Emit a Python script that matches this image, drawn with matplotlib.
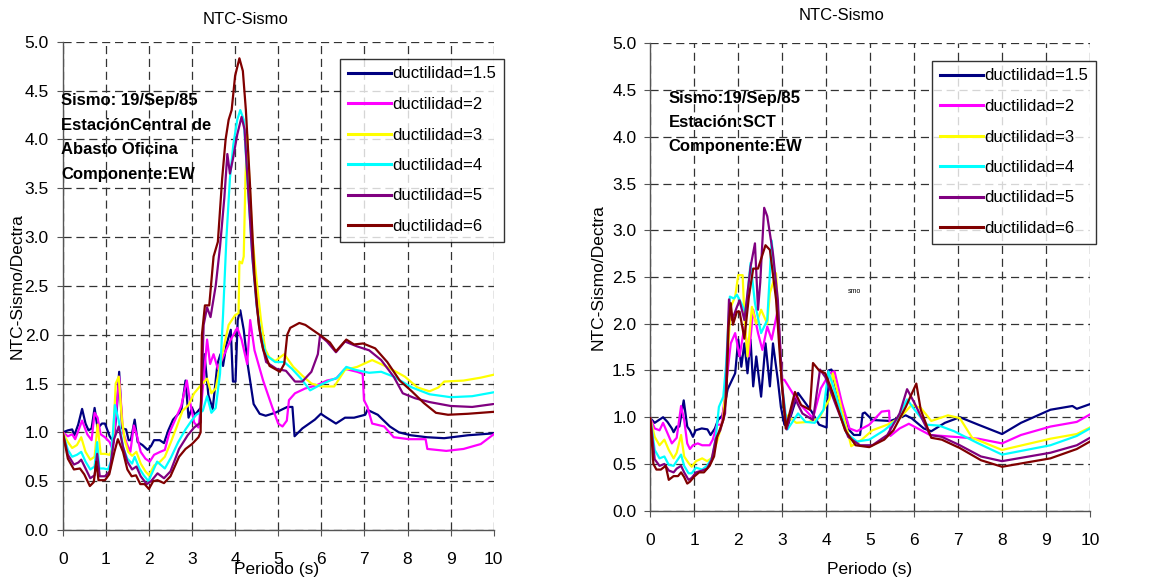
import matplotlib
matplotlib.use("Agg")
import matplotlib.pyplot as plt

plt.rcParams['font.family'] = ['Liberation Sans', 'DejaVu Sans']

labels = ["ductilidad=1.5", "ductilidad=2", "ductilidad=3",
          "ductilidad=4", "ductilidad=5", "ductilidad=6"]
colors = ["#000080", "#FF00FF", "#FFFF00", "#00FFFF", "#800080", "#800000"]
x_ticks = list(range(0, 11))
y_ticks = [0.0, 0.5, 1.0, 1.5, 2.0, 2.5, 3.0, 3.5, 4.0, 4.5, 5.0]

# Central de Abasto Oficina, EW -- (periodo, cociente)
cao_15 = [(0, 1.0), (0.12, 1.02), (0.22, 1.03), (0.27, 0.97), (0.36, 1.08), (0.45, 1.24),
          (0.53, 1.09), (0.6, 1.02), (0.67, 1.04), (0.74, 1.25), (0.81, 1.04), (0.91, 1.09),
          (0.98, 1.09), (1.09, 0.96), (1.18, 0.9), (1.25, 1.2), (1.31, 1.62), (1.38, 1.04),
          (1.47, 1.03), (1.53, 0.92), (1.58, 0.92), (1.67, 1.13), (1.74, 0.9), (1.85, 0.87),
          (1.97, 0.82), (2.05, 0.86), (2.12, 0.92), (2.25, 0.92), (2.35, 0.89), (2.45, 1.02),
          (2.56, 1.13), (2.75, 1.22), (2.85, 1.53), (2.92, 1.15), (3.0, 1.25), (3.07, 1.18),
          (3.2, 1.25), (3.29, 1.8), (3.38, 1.38), (3.48, 1.24), (3.59, 1.7), (3.66, 1.8),
          (3.72, 1.68), (3.8, 1.9), (3.9, 2.05), (3.95, 1.52), (4.01, 1.52), (4.06, 2.15),
          (4.12, 2.25), (4.2, 2.05), (4.29, 1.7), (4.43, 1.29), (4.57, 1.19), (4.71, 1.17),
          (4.93, 1.2), (5.21, 1.26), (5.33, 1.26), (5.38, 0.96), (5.56, 1.04), (5.85, 1.13),
          (5.99, 1.19), (6.09, 1.16), (6.34, 1.09), (6.55, 1.15), (6.76, 1.15), (7.02, 1.18),
          (7.07, 1.23), (7.31, 1.18), (7.59, 1.06), (7.8, 1.0), (8.08, 0.97), (8.45, 0.95),
          (8.85, 0.94), (9.4, 0.97), (10, 0.99)]
cao_2 = [(0, 1.0), (0.12, 0.96), (0.22, 0.98), (0.29, 0.93), (0.45, 1.12), (0.57, 0.98),
         (0.67, 0.92), (0.74, 1.2), (0.81, 1.15), (0.88, 0.98), (0.98, 0.95), (1.09, 0.9),
         (1.16, 0.82), (1.24, 1.2), (1.31, 1.57), (1.4, 1.0), (1.49, 0.88), (1.57, 0.8),
         (1.65, 1.07), (1.72, 0.97), (1.81, 0.8), (1.92, 0.73), (2.02, 0.7), (2.12, 0.77),
         (2.26, 0.8), (2.37, 0.82), (2.47, 0.99), (2.61, 1.13), (2.75, 1.27), (2.88, 1.53),
         (2.96, 1.3), (3.05, 1.1), (3.15, 1.05), (3.23, 1.35), (3.35, 1.95), (3.42, 1.7),
         (3.5, 1.8), (3.6, 1.65), (3.75, 1.8), (3.9, 1.95), (4.05, 2.07), (4.15, 1.95),
         (4.28, 1.7), (4.35, 2.15), (4.45, 1.84), (4.65, 1.53), (4.86, 1.26), (5.0, 1.09),
         (5.1, 1.06), (5.2, 1.12), (5.25, 1.33), (5.39, 1.4), (5.63, 1.45), (5.88, 1.48),
         (6.13, 1.53), (6.34, 1.55), (6.55, 1.65), (6.83, 1.62), (6.96, 1.6), (6.99, 1.33),
         (7.07, 1.26), (7.18, 1.09), (7.46, 1.06), (7.68, 0.95), (8.03, 0.93), (8.42, 0.93),
         (8.46, 0.83), (8.9, 0.81), (9.3, 0.83), (9.7, 0.88), (10, 0.98)]
cao_3 = [(0, 1.0), (0.12, 0.9), (0.22, 0.84), (0.33, 0.87), (0.43, 0.95), (0.53, 0.8),
         (0.64, 0.72), (0.74, 0.75), (0.81, 1.08), (0.88, 0.78), (0.98, 0.78), (1.09, 0.77),
         (1.16, 0.84), (1.23, 1.5), (1.3, 1.57), (1.37, 1.15), (1.44, 0.92), (1.52, 0.8),
         (1.61, 0.76), (1.71, 0.8), (1.81, 0.68), (1.92, 0.6), (2.0, 0.56), (2.12, 0.66),
         (2.26, 0.7), (2.37, 0.75), (2.51, 0.9), (2.64, 1.05), (2.78, 1.22), (2.92, 1.28),
         (3.05, 1.4), (3.2, 1.48), (3.35, 1.55), (3.45, 1.4), (3.55, 1.45), (3.7, 1.8),
         (3.85, 2.1), (4.0, 2.2), (4.08, 2.22), (4.1, 2.75), (4.16, 2.73), (4.2, 2.8),
         (4.24, 3.6), (4.28, 4.05), (4.33, 3.6), (4.4, 3.0), (4.5, 2.55), (4.6, 2.15),
         (4.7, 1.85), (4.79, 1.77), (4.93, 1.73), (5.14, 1.8), (5.35, 1.67), (5.56, 1.58),
         (5.77, 1.5), (5.99, 1.47), (6.3, 1.47), (6.55, 1.64), (6.83, 1.67), (7.18, 1.74),
         (7.53, 1.67), (7.94, 1.57), (8.23, 1.46), (8.51, 1.42), (8.72, 1.46), (8.85, 1.52),
         (9.3, 1.53), (9.7, 1.56), (10, 1.59)]
cao_4 = [(0, 1.0), (0.12, 0.82), (0.22, 0.75), (0.33, 0.77), (0.43, 0.8), (0.53, 0.7),
         (0.64, 0.62), (0.74, 0.65), (0.8, 0.9), (0.85, 0.63), (0.95, 0.63), (1.05, 0.62),
         (1.12, 0.7), (1.21, 1.28), (1.3, 1.12), (1.4, 0.85), (1.5, 0.73), (1.61, 0.68),
         (1.67, 0.75), (1.78, 0.63), (1.88, 0.56), (1.99, 0.5), (2.09, 0.6), (2.19, 0.7),
         (2.37, 0.63), (2.51, 0.74), (2.68, 0.9), (2.85, 1.03), (2.99, 1.12), (3.1, 1.18),
         (3.25, 1.22), (3.35, 1.37), (3.45, 1.2), (3.55, 1.25), (3.65, 1.6), (3.72, 2.2),
         (3.8, 3.0), (3.88, 3.6), (3.96, 3.95), (4.05, 4.2), (4.12, 4.3), (4.2, 4.2),
         (4.3, 3.5), (4.4, 2.8), (4.5, 2.3), (4.6, 2.0), (4.72, 1.79), (4.93, 1.72),
         (5.14, 1.72), (5.32, 1.65), (5.53, 1.55), (5.74, 1.43), (5.95, 1.48), (6.2, 1.53),
         (6.37, 1.56), (6.58, 1.67), (6.79, 1.64), (7.11, 1.61), (7.39, 1.62), (7.68, 1.57),
         (8.1, 1.46), (8.51, 1.39), (9.0, 1.36), (9.5, 1.37), (10, 1.41)]
cao_5 = [(0, 1.0), (0.12, 0.77), (0.26, 0.67), (0.36, 0.69), (0.43, 0.72), (0.53, 0.63),
         (0.64, 0.53), (0.74, 0.56), (0.8, 0.78), (0.86, 0.55), (0.98, 0.55), (1.09, 0.6),
         (1.19, 0.93), (1.3, 1.06), (1.4, 0.85), (1.5, 0.7), (1.61, 0.62), (1.71, 0.65),
         (1.81, 0.55), (1.95, 0.47), (2.05, 0.5), (2.2, 0.58), (2.35, 0.53), (2.5, 0.6),
         (2.7, 0.83), (2.9, 0.97), (3.05, 1.05), (3.2, 1.1), (3.27, 2.1), (3.35, 2.28),
         (3.43, 2.18), (3.55, 2.5), (3.65, 2.9), (3.75, 3.4), (3.82, 3.85), (3.88, 3.65),
         (3.95, 3.8), (4.05, 4.05), (4.15, 4.23), (4.22, 4.1), (4.3, 3.5), (4.4, 2.8),
         (4.5, 2.3), (4.6, 1.95), (4.72, 1.72), (4.96, 1.65), (5.18, 1.63), (5.39, 1.52),
         (5.56, 1.52), (5.77, 1.62), (5.92, 1.8), (5.97, 1.99), (6.13, 1.93), (6.34, 1.82),
         (6.55, 1.93), (6.83, 1.88), (7.11, 1.84), (7.39, 1.74), (7.68, 1.57), (7.89, 1.4),
         (8.17, 1.35), (8.51, 1.31), (9.0, 1.27), (9.5, 1.26), (10, 1.29)]
cao_6 = [(0, 1.0), (0.12, 0.73), (0.26, 0.62), (0.4, 0.63), (0.5, 0.57), (0.63, 0.45),
         (0.72, 0.49), (0.78, 0.7), (0.83, 0.51), (0.98, 0.51), (1.08, 0.57), (1.2, 0.8),
         (1.28, 0.93), (1.4, 0.8), (1.5, 0.62), (1.6, 0.55), (1.7, 0.56), (1.8, 0.47),
         (1.9, 0.47), (2.0, 0.42), (2.1, 0.5), (2.2, 0.51), (2.35, 0.48), (2.5, 0.55),
         (2.7, 0.75), (2.85, 0.83), (3.0, 0.88), (3.15, 0.95), (3.2, 1.0), (3.23, 2.0),
         (3.3, 2.3), (3.4, 2.3), (3.5, 2.8), (3.6, 2.95), (3.7, 3.6), (3.78, 4.0),
         (3.85, 4.2), (3.92, 4.3), (4.0, 4.65), (4.1, 4.83), (4.18, 4.7), (4.25, 4.3),
         (4.35, 3.5), (4.45, 2.6), (4.55, 2.1), (4.65, 1.85), (4.8, 1.68), (5.04, 1.62),
         (5.14, 1.7), (5.21, 2.0), (5.28, 2.07), (5.49, 2.12), (5.63, 2.1), (5.99, 1.99),
         (6.2, 1.92), (6.34, 1.83), (6.58, 1.95), (6.76, 1.9), (6.97, 1.91), (7.25, 1.86),
         (7.53, 1.72), (7.82, 1.53), (8.1, 1.42), (8.38, 1.3), (8.66, 1.2), (8.94, 1.18),
         (9.4, 1.19), (10, 1.21)]

# SCT, EW -- (periodo, cociente)
sct_15 = [(0, 0.99), (0.1, 0.94), (0.29, 1.0), (0.39, 0.95), (0.49, 0.88), (0.53, 0.84),
          (0.6, 0.9), (0.66, 0.9), (0.76, 1.18), (0.84, 0.9), (0.9, 0.86), (0.97, 0.79),
          (1.03, 0.86), (1.17, 0.88), (1.3, 0.87), (1.37, 0.81), (1.47, 0.88), (1.54, 0.97),
          (1.64, 1.02), (1.76, 1.3), (1.93, 1.47), (2.0, 1.83), (2.07, 1.54), (2.14, 1.79),
          (2.21, 1.47), (2.28, 1.83), (2.34, 1.33), (2.41, 1.65), (2.52, 1.22), (2.62, 1.79),
          (2.72, 1.33), (2.79, 1.79), (2.9, 1.4), (2.97, 1.11), (3.05, 0.92), (3.12, 0.9),
          (3.36, 1.26), (3.67, 1.06), (3.84, 0.92), (4.01, 0.89), (4.05, 1.5), (4.12, 1.51),
          (4.29, 1.19), (4.53, 0.86), (4.63, 0.81), (4.77, 0.81), (4.83, 1.04), (4.88, 1.05),
          (5.05, 0.97), (5.46, 0.96), (5.81, 1.02), (5.94, 0.99), (6.22, 0.88), (6.39, 0.85),
          (6.7, 0.94), (7.04, 1.0), (7.46, 0.92), (8.0, 0.82), (8.43, 0.94), (9.1, 1.08),
          (9.6, 1.12), (9.7, 1.09), (10, 1.14)]
sct_2 = [(0, 0.99), (0.1, 0.88), (0.21, 0.86), (0.29, 0.94), (0.39, 0.83), (0.49, 0.72),
         (0.6, 0.78), (0.7, 1.12), (0.77, 0.97), (0.84, 0.72), (0.9, 0.66), (0.97, 0.7),
         (1.08, 0.72), (1.18, 0.7), (1.35, 0.7), (1.42, 0.76), (1.52, 0.92), (1.62, 0.92),
         (1.69, 1.2), (1.83, 1.79), (1.93, 1.9), (2.03, 1.65), (2.14, 1.97), (2.24, 1.65),
         (2.34, 2.15), (2.45, 1.9), (2.55, 1.72), (2.66, 1.97), (2.76, 1.83), (2.9, 2.15),
         (3.0, 1.4), (3.05, 1.4), (3.26, 1.24), (3.46, 1.11), (3.7, 0.99), (3.88, 1.31),
         (4.08, 1.47), (4.19, 1.49), (4.36, 1.15), (4.53, 0.88), (4.7, 0.85), (4.98, 0.92),
         (5.26, 1.06), (5.43, 1.07), (5.46, 0.8), (5.67, 0.88), (5.88, 0.93), (6.08, 0.88),
         (6.36, 0.81), (6.91, 0.79), (7.46, 0.77), (8.0, 0.72), (8.43, 0.81), (9.1, 0.9),
         (9.7, 0.95), (10, 1.03)]
sct_3 = [(0, 0.99), (0.1, 0.79), (0.21, 0.7), (0.32, 0.76), (0.42, 0.65), (0.53, 0.56),
         (0.6, 0.62), (0.7, 0.81), (0.77, 0.58), (0.87, 0.51), (0.94, 0.47), (1.04, 0.53),
         (1.18, 0.56), (1.29, 0.53), (1.39, 0.56), (1.49, 0.7), (1.59, 0.86), (1.66, 0.99),
         (1.72, 1.4), (1.83, 2.18), (1.93, 2.29), (2.0, 2.52), (2.1, 2.52), (2.14, 2.08),
         (2.21, 1.65), (2.31, 2.18), (2.41, 2.0), (2.52, 2.15), (2.66, 2.0), (2.72, 2.33),
         (2.86, 2.54), (2.97, 1.54), (3.05, 1.04), (3.32, 0.94), (3.6, 0.95), (3.84, 0.99),
         (4.08, 1.2), (4.15, 1.47), (4.32, 1.15), (4.57, 0.69), (4.81, 0.76), (5.05, 0.86),
         (5.39, 0.92), (5.67, 0.99), (5.94, 1.13), (6.15, 1.1), (6.39, 0.96), (6.77, 1.02),
         (7.04, 0.99), (7.32, 0.78), (8.0, 0.65), (9.1, 0.77), (9.7, 0.82), (10, 0.89)]
sct_4 = [(0, 0.99), (0.1, 0.65), (0.21, 0.56), (0.32, 0.58), (0.42, 0.49), (0.53, 0.48),
         (0.6, 0.53), (0.7, 0.6), (0.77, 0.48), (0.87, 0.4), (0.94, 0.4), (1.04, 0.46),
         (1.18, 0.44), (1.29, 0.48), (1.42, 0.58), (1.49, 0.79), (1.56, 1.11), (1.66, 1.22),
         (1.72, 1.54), (1.81, 2.29), (1.9, 2.27), (1.97, 2.31), (2.07, 2.22), (2.17, 2.11),
         (2.28, 2.65), (2.38, 2.22), (2.52, 1.9), (2.66, 2.04), (2.76, 2.89), (2.9, 2.11),
         (3.0, 1.33), (3.12, 0.87), (3.36, 1.04), (3.53, 0.95), (3.74, 0.94), (3.94, 1.08),
         (4.05, 1.49), (4.22, 1.24), (4.46, 0.83), (4.7, 0.74), (4.98, 0.76), (5.32, 0.86),
         (5.6, 0.97), (5.84, 1.19), (6.01, 1.08), (6.29, 0.92), (6.57, 0.91), (6.91, 0.85),
         (7.46, 0.72), (8.0, 0.6), (9.1, 0.7), (9.7, 0.8), (10, 0.88)]
sct_5 = [(0, 0.99), (0.1, 0.55), (0.21, 0.48), (0.32, 0.5), (0.42, 0.43), (0.53, 0.41),
         (0.6, 0.45), (0.7, 0.48), (0.77, 0.41), (0.87, 0.33), (0.94, 0.35), (1.04, 0.41),
         (1.18, 0.43), (1.29, 0.45), (1.39, 0.54), (1.49, 0.77), (1.59, 0.86), (1.7, 1.04),
         (1.79, 2.26), (1.86, 2.04), (1.97, 2.18), (2.03, 2.25), (2.14, 2.04), (2.28, 2.61),
         (2.38, 2.86), (2.45, 2.15), (2.5, 2.44), (2.59, 3.24), (2.66, 3.15), (2.79, 2.75),
         (2.9, 2.26), (3.0, 1.33), (3.1, 0.87), (3.29, 1.2), (3.46, 1.04), (3.7, 0.97),
         (3.86, 1.51), (3.98, 1.43), (4.22, 1.13), (4.5, 0.79), (4.77, 0.7), (5.05, 0.7),
         (5.39, 0.81), (5.67, 1.04), (5.84, 1.3), (6.01, 1.15), (6.36, 0.81), (6.63, 0.79),
         (7.04, 0.7), (7.52, 0.58), (8.0, 0.53), (9.1, 0.62), (9.7, 0.7), (10, 0.78)]
sct_6 = [(0, 0.99), (0.07, 0.5), (0.14, 0.44), (0.24, 0.44), (0.35, 0.48), (0.42, 0.33),
         (0.53, 0.37), (0.63, 0.37), (0.7, 0.41), (0.77, 0.36), (0.84, 0.29), (0.9, 0.31),
         (1.01, 0.37), (1.11, 0.41), (1.22, 0.41), (1.35, 0.48), (1.45, 0.58), (1.52, 0.79),
         (1.66, 0.97), (1.73, 1.22), (1.78, 1.97), (1.83, 2.22), (1.88, 1.99), (1.97, 2.13),
         (2.03, 2.13), (2.14, 1.84), (2.24, 2.28), (2.34, 2.59), (2.45, 2.59), (2.62, 2.84),
         (2.72, 2.79), (2.86, 2.26), (2.99, 1.36), (3.08, 0.88), (3.29, 1.27), (3.43, 1.13),
         (3.63, 1.08), (3.7, 1.58), (3.84, 1.5), (3.98, 1.47), (4.15, 1.26), (4.43, 0.86),
         (4.67, 0.7), (4.98, 0.68), (5.32, 0.76), (5.53, 0.86), (5.81, 1.11), (6.05, 1.36),
         (6.15, 1.08), (6.39, 0.78), (6.63, 0.76), (7.04, 0.67), (7.52, 0.54), (8.0, 0.47),
         (9.1, 0.56), (9.7, 0.66), (10, 0.74)]

cao_series = [cao_15, cao_2, cao_3, cao_4, cao_5, cao_6]
sct_series = [sct_15, sct_2, sct_3, sct_4, sct_5, sct_6]


def style_axes(ax):
    ax.set_xlim(0, 10)
    ax.set_ylim(0, 5)
    ax.set_xticks(x_ticks)
    ax.set_yticks(y_ticks)
    ax.set_yticklabels([f"{v:.1f}" for v in y_ticks])
    ax.grid(True, color="#333333", linestyle=(0, (6.5, 3.8)), linewidth=0.9)
    ax.set_axisbelow(True)
    for side in ("top", "right"):
        ax.spines[side].set_visible(False)
    for side in ("left", "bottom"):
        ax.spines[side].set_color("#555555")
        ax.spines[side].set_linewidth(1.0)
        ax.spines[side].set_zorder(1)
    ax.tick_params(axis="both", direction="out", length=4, color="#555555",
                   labelsize=12.5)
    ax.tick_params(axis="x", pad=12)
    ax.tick_params(axis="y", pad=6)


def draw(ax, series):
    lines = []
    for data, lab, col in zip(series, labels, colors):
        t, v = zip(*data)
        ln, = ax.plot(t, v, color=col, lw=1.6, label=lab, zorder=3)
        lines.append(ln)
    return lines


fig = plt.figure(figsize=(11.58, 5.81), dpi=100)
W, H = 1158, 581

ax1 = fig.add_axes([62.7 / W, 51 / H, 431 / W, 488.3 / H])
ax2 = fig.add_axes([650.3 / W, 70.3 / H, 439.7 / W, 467.4 / H])

for ax, series in ((ax1, cao_series), (ax2, sct_series)):
    style_axes(ax)
    draw(ax, series)

ax1.set_xlabel("Periodo (s)", fontsize=12.5)
ax1.xaxis.set_label_coords(0.497, -0.066)
ax1.set_ylabel("NTC-Sismo/Dectra", fontsize=12.5)
ax1.yaxis.set_label_coords(-0.088, 0.5)

ax2.set_xlabel("Periodo (s)", fontsize=12.5)
ax2.xaxis.set_label_coords(0.499, -0.11)
ax2.set_ylabel("NTC-Sismo/Dectra", fontsize=12.5)
ax2.yaxis.set_label_coords(-0.101, 0.5)

fig.text(246 / W, 1 - 20 / H, "NTC-Sismo", ha="center", va="center", fontsize=12)
fig.text(842 / W, 1 - 16 / H, "NTC-Sismo", ha="center", va="center", fontsize=12)

ax1.text(-0.004, 0.894, "Sismo: 19/Sep/85\nEstaciónCentral de\nAbasto Oficina\nComponente:EW",
         transform=ax1.transAxes, ha="left", va="top", fontsize=12,
         fontweight="bold", linespacing=1.78, zorder=4)
ax2.text(0.042, 0.899, "Sismo:19/Sep/85\nEstación:SCT\nComponente:EW",
         transform=ax2.transAxes, ha="left", va="top", fontsize=12,
         fontweight="bold", linespacing=1.78, zorder=4)
ax2.text(4.65, 2.35, "smo", fontsize=5, ha="center", va="center")

leg_kw = dict(loc="upper left", fontsize=12, frameon=True, fancybox=False,
              borderaxespad=0, handlelength=2.6, handletextpad=0.1,
              labelspacing=0.93, borderpad=0.45)
for ax, (lx, ly) in ((ax1, (340, 59)), (ax2, (932, 61))):
    leg = ax.legend(bbox_to_anchor=(lx / W, 1 - ly / H),
                    bbox_transform=fig.transFigure, **leg_kw)
    leg.get_frame().set_edgecolor("black")
    leg.get_frame().set_linewidth(1.0)
    leg.set_zorder(5)
    for h in leg.get_lines():
        h.set_linewidth(2.2)

fig.savefig("out.png", dpi=100)
